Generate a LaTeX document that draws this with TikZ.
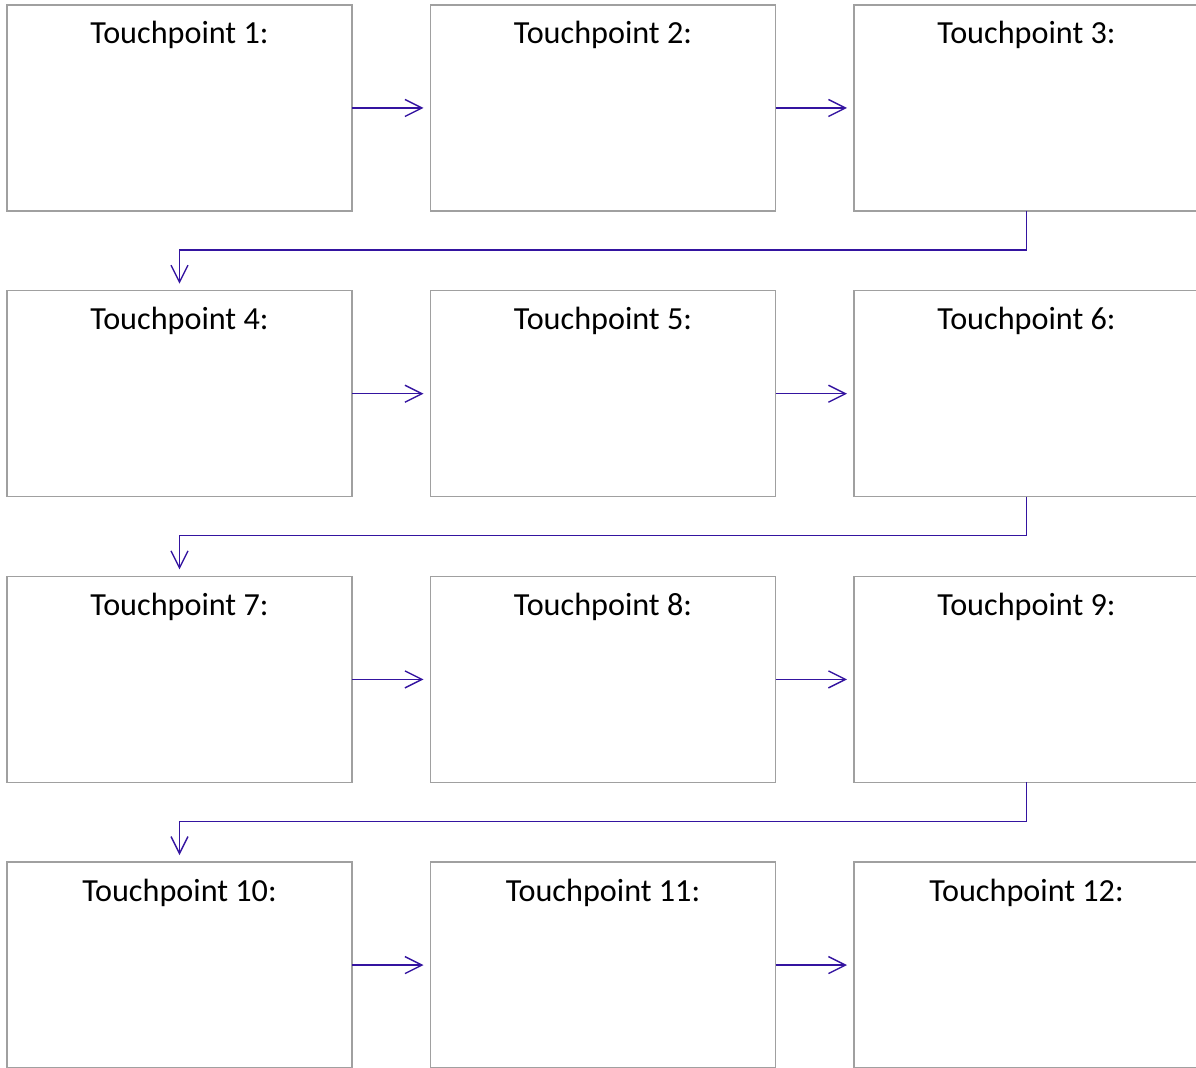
\documentclass[tikz,border=0pt]{standalone}
\usepackage{fontspec}
\setmainfont{Carlito}
\usetikzlibrary{arrows.meta, calc}

\definecolor{boxgray}{RGB}{160,160,160}
\definecolor{flowblue}{RGB}{52,20,160}

\begin{document}
\begin{tikzpicture}[x=0.5pt, y=-0.5pt,
		tpbox/.style={draw=boxgray, line width=0.8pt, fill=white, rectangle,
			minimum width=172.5pt, minimum height=103pt, inner sep=0pt, outer sep=0pt, anchor=north west},
		tptitle/.style={anchor=base, inner sep=0pt, font=\fontsize{16.1}{19}\selectfont},
		flow/.style={draw=flowblue, line width=0.7pt, -{Straight Barb[length=8.5pt, width=8.5pt]}, shorten >=3.5pt}]
		\useasboundingbox (0,0) rectangle (1196,1068);
		\clip (0,0) rectangle (1196,1068);
		% touchpoint boxes
		\foreach \i in {1,...,12} {
			\pgfmathtruncatemacro{\c}{mod(\i-1,3)}
			\pgfmathtruncatemacro{\r}{div(\i-1,3)}
			\node[tpbox] (t\i) at ({7+423.5*\c},{5+285.7*\r}) {};
			\node[tptitle] (t\i-title) at ($(t\i.north)+(0,39)$) {Touchpoint \i:};
		}
		% arrows along a row
		\foreach \i in {1,2,4,5,7,8,10,11} {
			\pgfmathtruncatemacro{\j}{\i+1}
			\draw[flow] (t\i.east) -- (t\j.west);
		}
		% arrows down to the next row
		\foreach \i in {3,6,9} {
			\pgfmathtruncatemacro{\j}{\i+1}
			\draw[flow] (t\i.south) -- ++(0,39) -| (t\j.north);
		}
	\end{tikzpicture}
\end{document}
